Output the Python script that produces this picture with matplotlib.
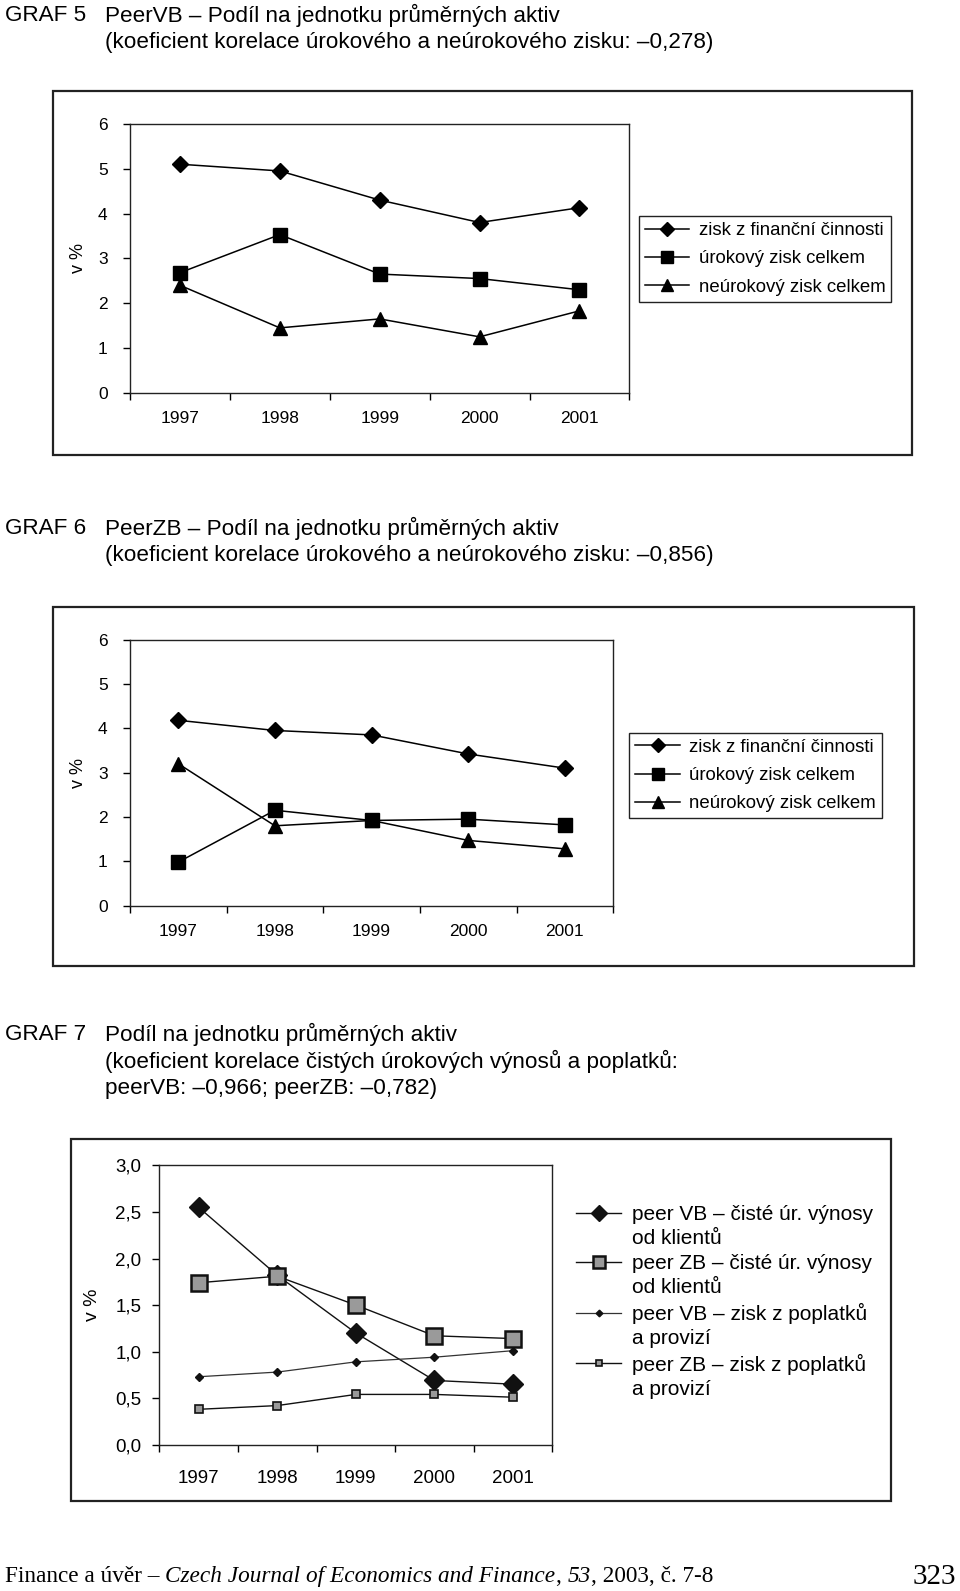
import matplotlib
matplotlib.use("Agg")
import matplotlib.pyplot as plt
from matplotlib.patches import Rectangle
from matplotlib.lines import Line2D

plt.rcParams['font.family'] = ['Liberation Sans', 'DejaVu Sans']

W, H = 960, 1591
S = 1 / 0.985   # layout was measured on a slightly reduced view

years = ["1997", "1998", "1999", "2000", "2001"]

# GRAF 5 - PeerVB
g5_financni = [5.1, 4.95, 4.3, 3.8, 4.13]
g5_urokovy = [2.68, 3.53, 2.65, 2.55, 2.3]
g5_neurokovy = [2.4, 1.45, 1.65, 1.25, 1.83]

# GRAF 6 - PeerZB
g6_financni = [4.18, 3.95, 3.85, 3.42, 3.1]
g6_urokovy = [0.98, 2.15, 1.92, 1.95, 1.82]
g6_neurokovy = [3.2, 1.8, 1.92, 1.47, 1.28]

# GRAF 7
g7_vb_urok = [2.55, 1.82, 1.2, 0.69, 0.65]
g7_zb_urok = [1.74, 1.81, 1.5, 1.17, 1.14]
g7_vb_popl = [0.73, 0.78, 0.89, 0.94, 1.01]
g7_zb_popl = [0.38, 0.42, 0.54, 0.54, 0.51]

labels_56 = ["zisk z finanční činnosti", "úrokový zisk celkem", "neúrokový zisk celkem"]
labels_7 = [("peer VB – čisté úr. výnosy", "od klientů"),
            ("peer ZB – čisté úr. výnosy", "od klientů"),
            ("peer VB – zisk z poplatků", "a provizí"),
            ("peer ZB – zisk z poplatků", "a provizí")]

fig = plt.figure(figsize=(W / 100, H / 100), dpi=100)


def fx(x):
    return x * S / W


def fy(y):
    return 1 - y * S / H


def add_ax(x0, y0, x1, y1):
    return fig.add_axes([fx(x0), fy(y1), fx(x1) - fx(x0), fy(y0) - fy(y1)])


def box(x0, y0, x1, y1):
    fig.patches.append(Rectangle((fx(x0), fy(y1)), fx(x1) - fx(x0), fy(y0) - fy(y1),
                                 transform=fig.transFigure, fill=False,
                                 edgecolor='#222222', linewidth=1.6))


def style_ax(ax, ymax, ystep, fmt, tick_fs, ypad, xpad):
    n = len(years)
    ax.set_xlim(-0.5, n - 0.5)
    ax.set_ylim(0, ymax)
    ax.set_xticks([i - 0.5 for i in range(n + 1)])
    ax.set_xticklabels([])
    ax.set_xticks(range(n), minor=True)
    ax.set_xticklabels(years, minor=True, fontsize=tick_fs)
    ax.tick_params(axis='x', which='major', direction='out', length=5, width=1)
    ax.tick_params(axis='x', which='minor', length=0, pad=xpad)
    yt = [i * ystep for i in range(int(round(ymax / ystep)) + 1)]
    ax.set_yticks(yt)
    ax.set_yticklabels([fmt(v) for v in yt], fontsize=tick_fs)
    ax.tick_params(axis='y', direction='out', length=5, width=1, pad=ypad)
    for s in ax.spines.values():
        s.set_linewidth(1.0)
        s.set_color('#222222')


def titles(y1, lines, fs=16.2):
    fig.text(fx(5), fy(y1), lines[0], fontsize=fs, va='center', ha='left')
    for i, t in enumerate(lines[1:]):
        fig.text(fx(103), fy(y1 + 26.5 * i), t, fontsize=fs, va='center', ha='left')


def framed_legend(handles, x0, y0):
    leg = fig.legend(handles, labels_56, loc='upper left',
                     bbox_to_anchor=(fx(x0), fy(y0)), borderaxespad=0,
                     fontsize=13.4, frameon=True, fancybox=False, framealpha=1,
                     edgecolor='#222222', handlelength=2.4, handletextpad=0.5,
                     labelspacing=0.6, borderpad=0.32, markerscale=0.85)
    leg.get_frame().set_linewidth(1.0)
    return leg


x = range(len(years))

# ---- GRAF 5 ----
titles(15, ["GRAF 5", "PeerVB – Podíl na jednotku průměrných aktiv",
            "(koeficient korelace úrokového a neúrokového zisku: –0,278)"])
box(52, 90, 898, 448)
ax1 = add_ax(128, 122, 620, 387)
l1 = ax1.plot(x, g5_financni, color='black', lw=1.1, marker='D', ms=8.5, mfc='black')[0]
l2 = ax1.plot(x, g5_urokovy, color='black', lw=1.1, marker='s', ms=10, mfc='black')[0]
l3 = ax1.plot(x, g5_neurokovy, color='black', lw=1.1, marker='^', ms=10.5, mfc='black')[0]
style_ax(ax1, 6, 1, lambda v: f"{v:.0f}", 12.5, 11, 13)
ax1.set_ylabel("v %", fontsize=13, labelpad=8)
framed_legend([l1, l2, l3], 629, 213)

# ---- GRAF 6 ----
titles(521, ["GRAF 6", "PeerZB – Podíl na jednotku průměrných aktiv",
             "(koeficient korelace úrokového a neúrokového zisku: –0,856)"])
box(52, 598, 900, 952)
ax2 = add_ax(128, 630, 604, 892)
m1 = ax2.plot(x, g6_financni, color='black', lw=1.1, marker='D', ms=8.5, mfc='black')[0]
m2 = ax2.plot(x, g6_urokovy, color='black', lw=1.1, marker='s', ms=10, mfc='black')[0]
m3 = ax2.plot(x, g6_neurokovy, color='black', lw=1.1, marker='^', ms=10.5, mfc='black')[0]
style_ax(ax2, 6, 1, lambda v: f"{v:.0f}", 12.5, 11, 13)
ax2.set_ylabel("v %", fontsize=13, labelpad=8)
framed_legend([m1, m2, m3], 620, 722)

# ---- GRAF 7 ----
titles(1019, ["GRAF 7", "Podíl na jednotku průměrných aktiv",
              "(koeficient korelace čistých úrokových výnosů a poplatků:",
              "peerVB: –0,966; peerZB: –0,782)"])
box(70, 1122, 878, 1478)
ax3 = add_ax(157, 1148, 544, 1423)
gray = '#9a9a9a'
n1 = ax3.plot(x, g7_vb_urok, color='#111111', lw=1.0, marker='D', ms=10.5,
              mfc='#111111', mec='#111111')[0]
n2 = ax3.plot(x, g7_zb_urok, color='#111111', lw=1.0, marker='s', ms=11,
              mfc=gray, mec='#111111', mew=1.8)[0]
n3 = ax3.plot(x, g7_vb_popl, color='#333333', lw=0.9, marker='D', ms=4.5,
              mfc='#111111', mec='#111111')[0]
n4 = ax3.plot(x, g7_zb_popl, color='#111111', lw=1.0, marker='s', ms=6,
              mfc=gray, mec='#111111', mew=1.2)[0]
style_ax(ax3, 3.0, 0.5, lambda v: f"{v:.1f}".replace('.', ','), 13.5, 8, 18)
ax3.set_ylabel("v %", fontsize=14, labelpad=10)

blank = Line2D([], [], color='none')
h7, t7 = [], []
for h, (a, b) in zip([n1, n2, n3, n4], labels_7):
    h7 += [h, blank]
    t7 += [a, b]
fig.legend(h7, t7, loc='upper left', bbox_to_anchor=(fx(567), fy(1187)),
           borderaxespad=0, borderpad=0, fontsize=15, frameon=False,
           handlelength=2.2, handletextpad=0.5, labelspacing=0.26,
           markerscale=0.75)

# ---- footer ----
renderer = fig.canvas.get_renderer()
parts = [("Finance a úvěr – ", 'normal'),
         ("Czech Journal of Economics and Finance", 'italic'),
         (", ", 'normal'), ("53", 'italic'), (", 2003, č. 7-8", 'normal')]
serif = ['Liberation Serif', 'DejaVu Serif']
base = 16
total = 0
for txt, st in parts:
    t = fig.text(0, 0, txt, fontsize=base, style=st, family=serif)
    total += t.get_window_extent(renderer).width
    t.remove()
fs = base * (698 * S) / total
xpos = 5 * S
for txt, st in parts:
    t = fig.text(xpos / W, fy(1553), txt, fontsize=fs, style=st, va='center',
                 ha='left', family=serif)
    xpos += t.get_window_extent(renderer).width
fig.text(fx(942), fy(1553), "323", fontsize=21, va='center', ha='right',
         family=serif)

fig.savefig("out.png", dpi=100, facecolor='white')
